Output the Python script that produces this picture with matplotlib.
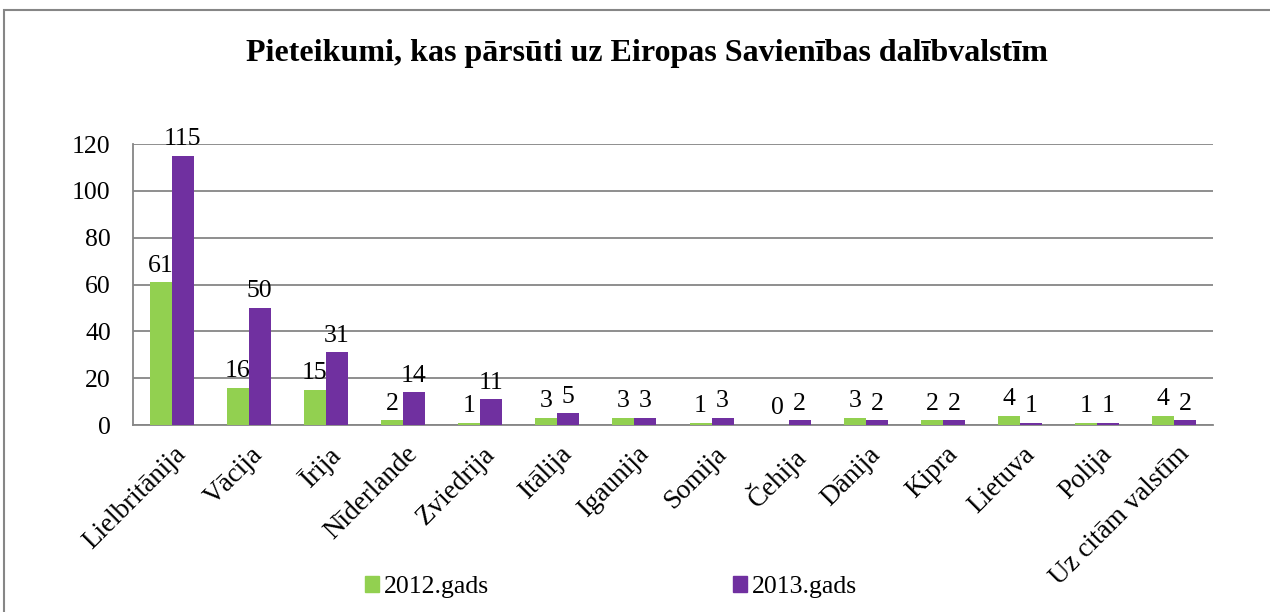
import matplotlib
matplotlib.use("Agg")
import matplotlib.pyplot as plt
import matplotlib.transforms as mtransforms
from matplotlib.patches import Rectangle, Patch
import numpy as np

# data
countries = ["Lielbritānija", "Vācija", "Īrija", "Nīderlande", "Zviedrija", "Itālija",
             "Igaunija", "Somija", "Čehija", "Dānija", "Kipra", "Lietuva", "Polija",
             "Uz citām valstīm"]
y2012 = [61, 16, 15, 2, 1, 3, 3, 1, 0, 3, 2, 4, 1, 4]
y2013 = [115, 50, 31, 14, 11, 5, 3, 3, 2, 2, 2, 1, 1, 2]
series_names = ["2012.gads", "2013.gads"]
yticks = [0, 20, 40, 60, 80, 100, 120]

green = "#92D050"
purple = "#7030A0"
grid_col = "#868686"
fs = 18.5

plt.rcParams['font.family'] = ['Liberation Serif', 'DejaVu Serif']

fig = plt.figure(figsize=(12.7, 6.12), dpi=100)
# outer chart border
fig.patches.append(Rectangle((4/1270, -0.05), 1.1, 1 - 10/612 + 0.05, transform=fig.transFigure,
                             fill=False, edgecolor=grid_col, linewidth=1.5))

ax = fig.add_axes([133/1270, 1 - 425/612, (1213-133)/1270, (425-144)/612])
x = np.arange(len(countries))
w = 0.285
b1 = ax.bar(x - w/2, y2012, w, color=green, label=series_names[0], zorder=3)
b2 = ax.bar(x + w/2, y2013, w, color=purple, label=series_names[1], zorder=3)

for bars, vals in ((b1, y2012), (b2, y2013)):
    for r, v in zip(bars, vals):
        ax.annotate(str(v), (r.get_x() + r.get_width()/2, v), xytext=(0, 4),
                    textcoords="offset points", ha="center", va="bottom", fontsize=fs)

ax.set_xlim(-0.5, len(countries) - 0.5)
ax.set_ylim(0, 120)
ax.set_yticks(yticks)
ax.tick_params(axis='y', length=0, pad=16, labelsize=fs)
ax.tick_params(axis='x', length=0, pad=12)
ax.set_xticks(x)
ax.set_xticklabels(countries, rotation=45, ha='right', rotation_mode='anchor', fontsize=19.5)
shift = mtransforms.ScaledTranslation(2/100, 0, fig.dpi_scale_trans)
for lbl in ax.get_xticklabels():
    lbl.set_transform(lbl.get_transform() + shift)
ax.grid(axis='y', color=grid_col, linewidth=1.3, zorder=0)
for s in ("top", "right"):
    ax.spines[s].set_visible(False)
for s in ("left", "bottom"):
    ax.spines[s].set_color(grid_col)
    ax.spines[s].set_linewidth(1.3)

fig.text(647/1270, 1 - 53/612, "Pieteikumi, kas pārsūti uz Eiropas Savienības dalībvalstīm",
         ha="center", va="center", fontsize=23, fontweight="bold")

handles = [Patch(color=green), Patch(color=purple)]
fig.legend(handles, series_names, loc="center", bbox_to_anchor=(611/1270, 1 - 587/612),
           ncol=2, frameon=False, fontsize=fs, handlelength=0.55, handleheight=0.55,
           handletextpad=0.2, columnspacing=9.5, borderpad=0)

fig.savefig("out.png", dpi=100)
